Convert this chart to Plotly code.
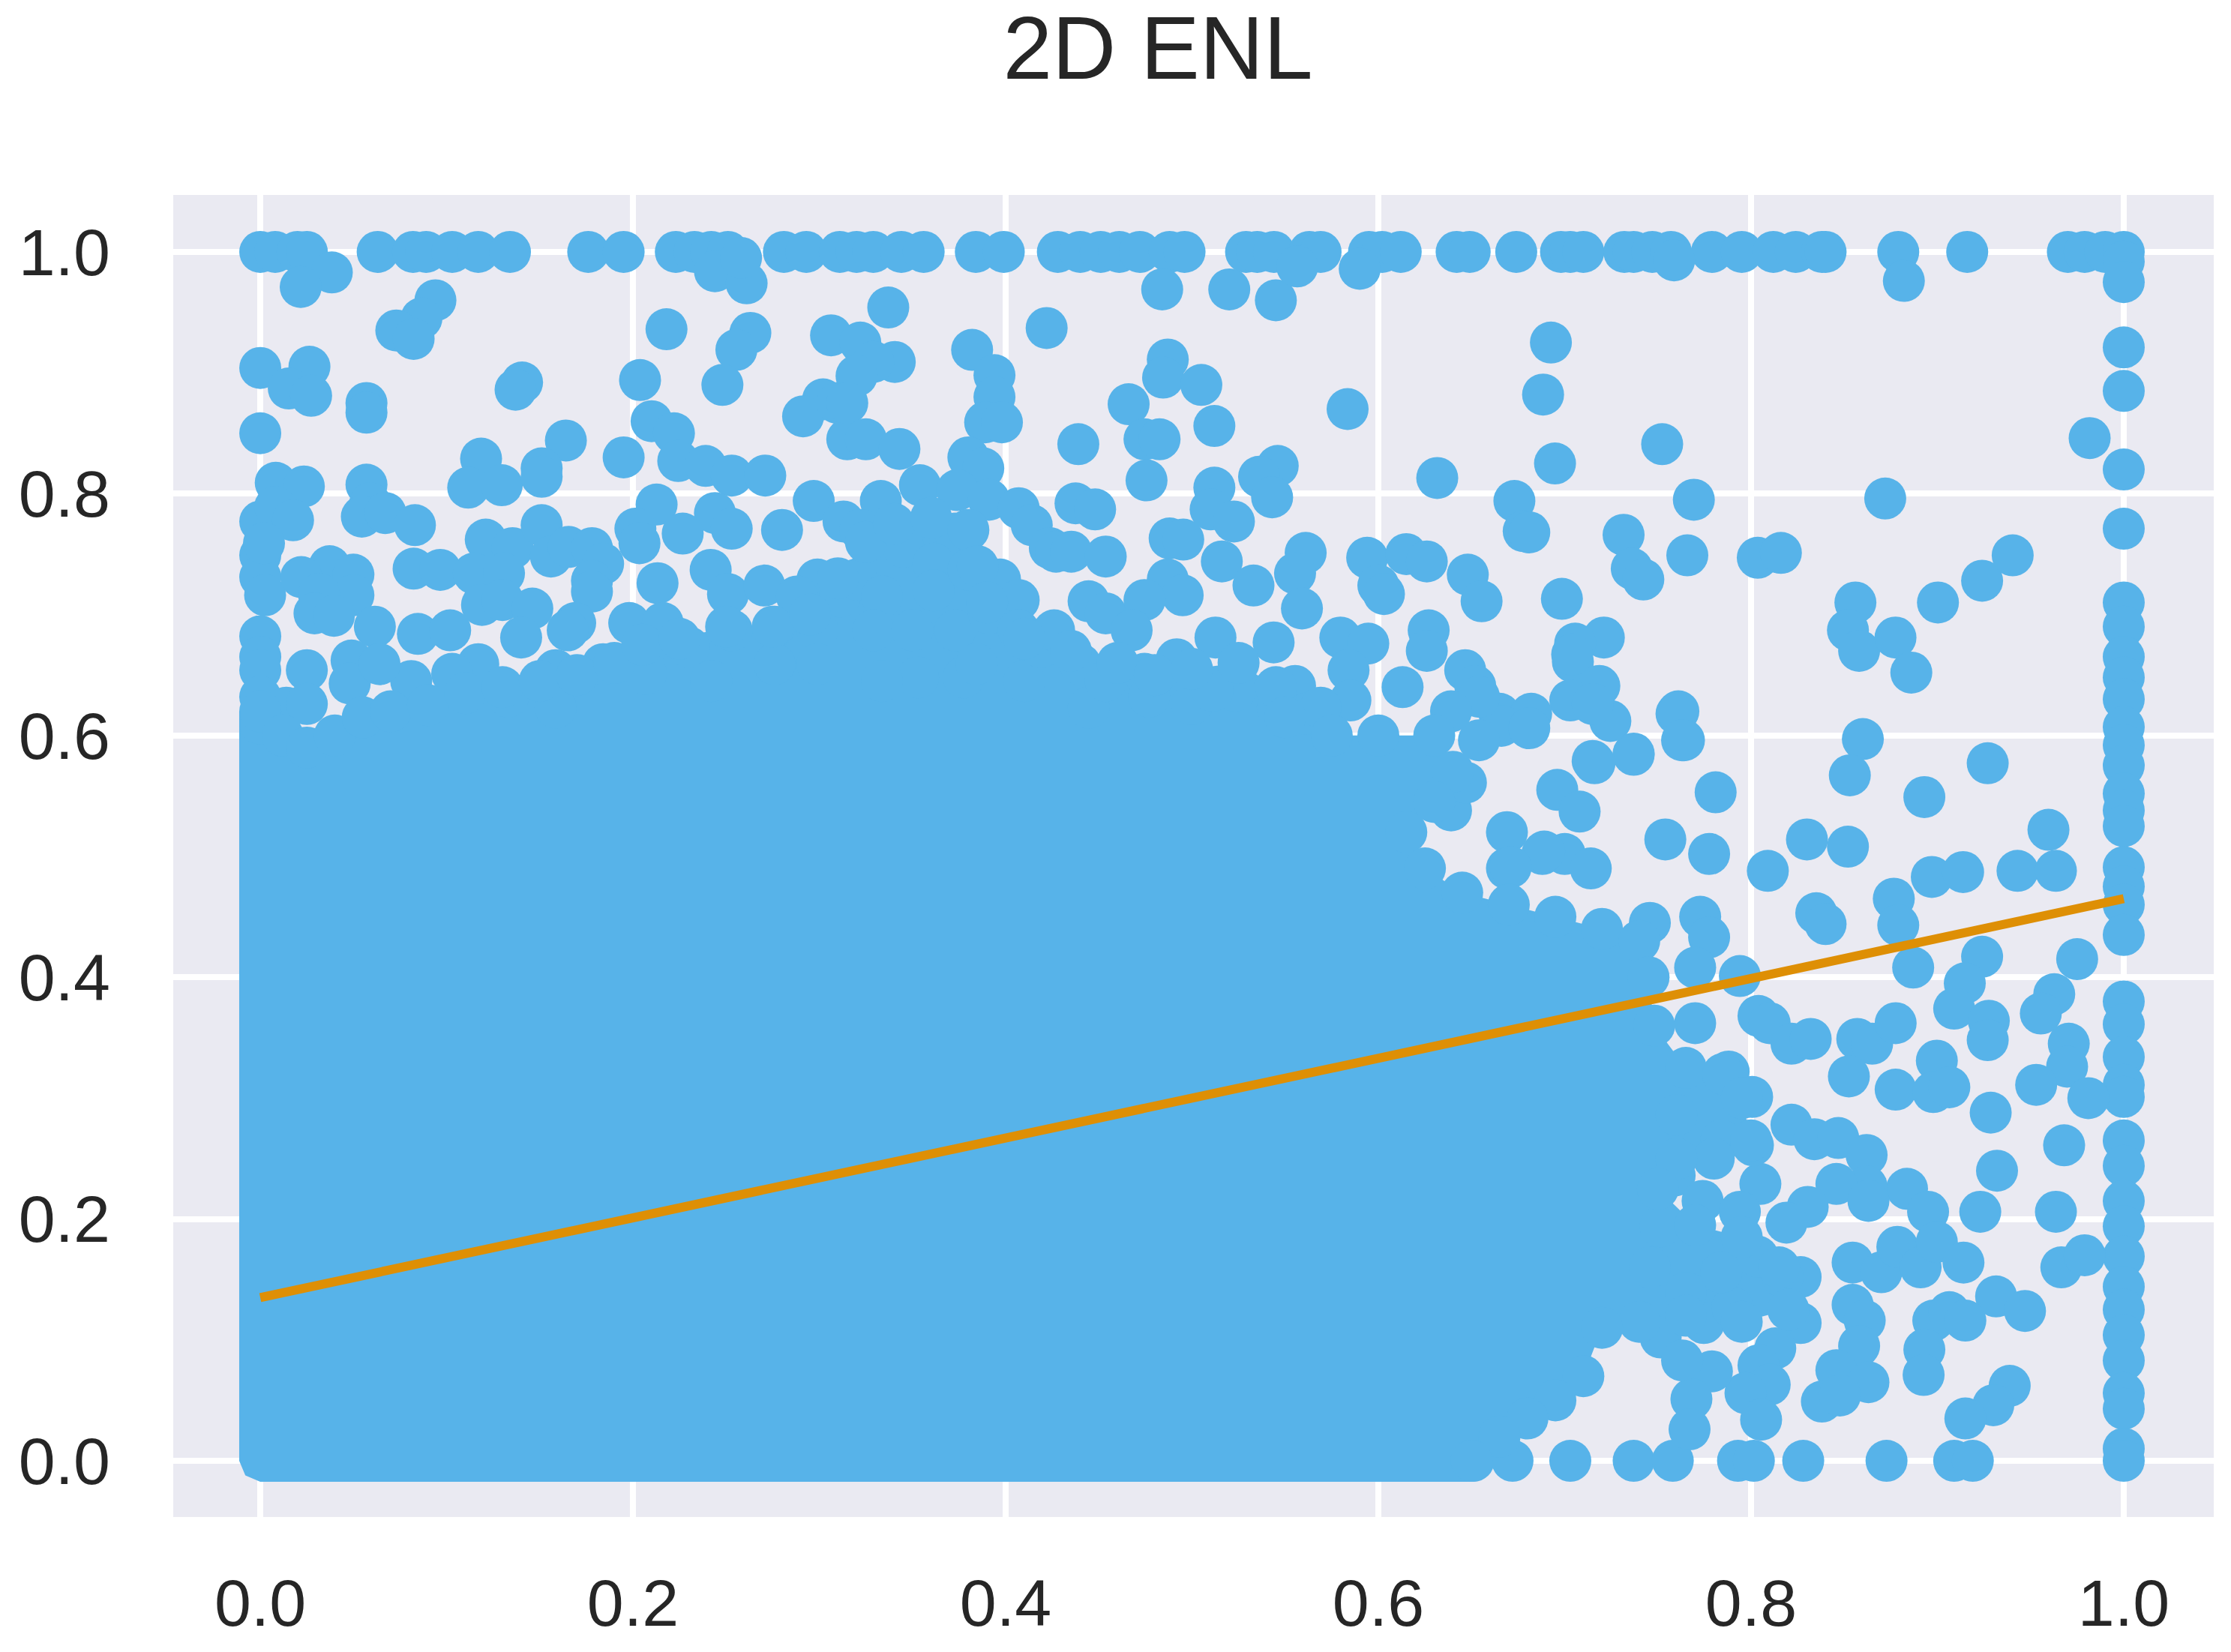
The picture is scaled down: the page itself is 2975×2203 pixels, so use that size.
import plotly.graph_objects as go

# Axis ticks
tick_vals = [0.0, 0.2, 0.4, 0.6, 0.8, 1.0]
tick_text = ['0.0', '0.2', '0.4', '0.6', '0.8', '1.0']

# Fitted line end points
line_x = [0.0, 1.0]
line_y = [0.135, 0.465]

# Points sitting on y = 1
top_row_x = [0.0, 0.008, 0.020, 0.025, 0.063, 0.082, 0.089, 0.103, 0.117, 0.134, 0.176, 0.195,
             0.223, 0.233, 0.242, 0.251, 0.281, 0.293, 0.311, 0.320, 0.329, 0.344, 0.356, 0.384,
             0.399, 0.428, 0.440, 0.451, 0.461, 0.472, 0.488, 0.496, 0.529, 0.535, 0.544, 0.563,
             0.569, 0.595, 0.602, 0.612, 0.642, 0.649, 0.674, 0.698, 0.703, 0.710, 0.732, 0.737,
             0.747, 0.757, 0.779, 0.795, 0.812, 0.824, 0.838, 0.840, 0.879, 0.916, 0.970, 0.979,
             0.990, 1.0]

# Points sitting on x = 1
right_col_y = [0.992, 0.975, 0.921, 0.885, 0.820, 0.771, 0.710, 0.690, 0.665, 0.648, 0.630, 0.607,
               0.592, 0.575, 0.552, 0.538, 0.525, 0.491, 0.475, 0.460, 0.435, 0.380, 0.361, 0.334,
               0.311, 0.301, 0.265, 0.244, 0.215, 0.194, 0.169, 0.144, 0.125, 0.104, 0.083, 0.056,
               0.043, 0.010, 0.0]

# Points sitting on x = 0, above the solid part
left_col_y = [0.904, 0.850, 0.777, 0.749, 0.731, 0.682, 0.665, 0.654, 0.632, 0.610]

# Points sitting on y = 0, right of the solid part
bottom_row_x = [0.651, 0.672, 0.703, 0.737, 0.758, 0.793, 0.8015, 0.828, 0.8727, 0.909, 0.919]

# Separate points, upper left
upper_left = [(.0384, .983), (.0217, .971), (.244, .984), (.261, .974), (.258, .995), (.094, .960),
              (.0865, .945), (.073, .935), (.0823, .928), (.218, .936), (.263, .933), (.2555, .919),
              (.248, .890), (.3063, .931), (.0264, .905), (.0153, .887), (.0273, .881), (.057, .875),
              (.057, .867), (.1405, .892), (.137, .886), (.2038, .894), (.302, .878), (.2913, .864),
              (.3098, .875), (.315, .845), (.164, .844), (.1185, .829), (.1116, .805), (.1296, .807),
              (.151, .821), (.151, .814), (.210, .860), (.222, .850), (.195, .830), (.2243, .827),
              (.239, .823), (.253, .815), (.271, .815), (.2127, .791), (.244, .784), (.253, .771),
              (.2267, .767), (.2013, .771), (.2035, .759), (.297, .794), (.280, .770), (.313, .777),
              (.0083, .809), (.0234, .806), (.008, .789), (.0176, .778), (.002, .759), (.0026, .716),
              (.057, .8075), (.059, .792), (.0545, .781), (.0672, .784), (.083, .774), (.121, .762),
              (.1354, .755), (.151, .774), (.156, .748), (.1655, .756), (.178, .755), (.184, .742),
              (.0823, .738), (.0966, .737), (.1146, .734), (.1308, .734), (.119, .708), (.13, .712),
              (.146, .705), (.178, .728), (.178, .719), (.169, .693), (.0372, .740), (.022, .731),
              (.05, .733), (.05, .716), (.0315, .717), (.0291, .701), (.0395, .699), (.0615, .690),
              (.2132, .726), (.2417, .737), (.251, .717), (.2705, .724), (.0846, .684), (.1019, .687),
              (.14, .681), (.117, .659), (.025, .654), (.014, .623), (.025, .626), (.049, .662),
              (.048, .643), (.081, .645), (.1585, .654), (.133, .632), (.1585, .623), (.198, .693),
              (.216, .693), (.207, .673), (.23, .673), (.253, .687), (.276, .69), (.299, .729),
              (.288, .715), (.311, .715), (.299, .687), (.184, .659), (.207, .651), (.242, .645),
              (.276, .659), (.299, .659), (.165, .687), (.103, .651), (.064, .659)]

# Separate points, upper middle
upper_mid = [(.337, .954), (.484, .969), (.520, .969), (.545, .960), (.5565, .988), (.590, .986),
             (.422, .937), (.322, .925), (.3405, .909), (.329, .909), (.320, .8975), (.315, .875),
             (.382, .919), (.394, .898), (.394, .880), (.389, .859), (.398, .859), (.325, .845),
             (.343, .837), (.380, .830), (.388, .821), (.354, .807), (.333, .794), (.374, .803),
             (.391, .795), (.407, .788), (.414, .774), (.4375, .792), (.448, .787), (.439, .841),
             (.487, .911), (.4845, .896), (.505, .890), (.466, .874), (.4745, .845), (.4826, .845),
             (.512, .856), (.4756, .811), (.5835, .870), (.546, .823), (.536, .814), (.543, .797),
             (.512, .805), (.510, .787), (.5225, .777), (.6316, .813), (.673, .794), (.678, .769),
             (.488, .763), (.4953, .762), (.516, .744), (.561, .751), (.594, .747), (.615, .750),
             (.626, .744), (.648, .733), (.6554, .711), (.6, .724), (.603, .717), (.487, .729),
             (.495, .716), (.5553, .734), (.559, .705), (.533, .724), (.4237, .755), (.427, .752),
             (.4352, .752), (.4537, .748), (.4445, .711), (.4537, .701), (.4745, .712), (.4676, .687),
             (.4918, .663), (.4745, .651), (.5126, .681), (.5438, .677), (.5796, .681), (.5946, .676),
             (.627, .687), (.626, .670), (.584, .654), (.6466, .654), (.652, .641), (.5553, .641),
             (.613, .640), (.665, .618), (.585, .629), (.561, .618), (.397, .729), (.407, .712),
             (.389, .679), (.373, .745), (.329, .745), (.353, .648), (.3775, .648), (.41, .645),
             (.44, .659), (.4445, .623), (.5, .626), (.523, .637), (.3382, .77), (.361, .77),
             (.373, .767), (.322, .77), (.345, .756), (.3613, .742), (.32, .729), (.3336, .715),
             (.3613, .72), (.38, .737), (.329, .687), (.35, .687), (.373, .687), (.391, .701),
             (.407, .687), (.419, .673), (.426, .687), (.3336, .645), (.3844, .659), (.4537, .645),
             (.477, .632), (.511, .637), (.546, .623), (.569, .623)]

# Separate points, upper right
upper_right = [(.6926, .925), (.6884, .882), (.7523, .841), (.6948, .825), (.7693, .795), (.872, .796),
               (.882, .976), (.7587, .993), (.9817, .846), (.681, .768), (.7316, .766), (.7658, .749),
               (.736, .738), (.7422, .729), (.8036, .747), (.816, .751), (.6985, .713), (.721, .681),
               (.7056, .676), (.7044, .661), (.7186, .641), (.703, .629), (.682, .618), (.7245, .612),
               (.76, .618), (.856, .710), (.852, .687), (.858, .670), (.8775, .681), (.886, .652),
               (.9003, .710), (.924, .728), (.9404, .749)]

# Separate points, lower right
lower_right = [(.764, .596), (.781, .553), (.754, .514), (.7775, .502), (.809, .488), (.830, .514),
               (.852, .508), (.860, .597), (.853, .567), (.893, .549), (.927, .577), (.9596, .522),
               (.897, .483), (.9138, .487), (.943, .488), (.9636, .488), (.8766, .465), (.835, .453),
               (.840, .444), (.879, .443), (.7727, .450), (.7775, .433), (.77, .408), (.794, .401),
               (.7457, .445), (.887, .408), (.924, .417), (.9147, .395), (.909, .374), (.9276, .364),
               (.927, .348), (.975, .415), (.9627, .386), (.9555, .370), (.9705, .345), (.9696, .326),
               (.953, .311), (.981, .300), (.804, .368), (.81, .362), (.8217, .345), (.832, .349),
               (.857, .349), (.865, .345), (.8776, .362), (.8525, .318), (.8776, .307), (.8997, .331),
               (.8978, .305), (.9064, .309), (.9286, .288), (.968, .261), (.932, .240), (.8217, .278),
               (.834, .266), (.8468, .267), (.862, .253), (.8837, .225), (.895, .206), (.862, .227),
               (.8458, .229), (.863, .215), (.923, .206), (.9636, .206), (.8304, .210), (.819, .197),
               (.805, .229), (.8545, .164), (.8699, .156), (.8785, .177), (.891, .160), (.8997, .181),
               (.914, .164), (.9665, .160), (.979, .170), (.9315, .136), (.947, .124), (.8545, .129),
               (.861, .116), (.858, .095), (.8978, .116), (.9064, .123), (.915, .116), (.893, .092),
               (.8926, .071), (.9388, .062), (.930, .046), (.915, .035), (.8458, .075), (.863, .065),
               (.838, .049), (.8477, .054), (.8266, .152), (.8266, .114), (.813, .093), (.804, .079),
               (.810, .063), (.797, .056), (.8054, .034), (.779, .074), (.768, .051), (.767, .026),
               (.7515, .102), (.763, .083), (.7746, .114), (.790, .127), (.76, .286), (.788, .322),
               (.8006, .301), (.801, .261), (.784, .265), (.759, .236), (.770, .362), (.7457, .16),
               (.7515, .194), (.774, .215), (.794, .206), (.784, .156), (.8035, .169), (.765, .139),
               (.817, .152)]

# Separate points just outside the solid part
core_near = [(.666, .608), (.681, .606), (.696, .555), (.715, .579), (.737, .585), (.715, .626),
             (.704, .667), (.761, .62), (.763, .596), (.669, .52), (.688, .502), (.669, .49),
             (.7, .502), (.714, .49), (.639, .538), (.647, .561), (.654, .632), (.654, .596),
             (.639, .62), (.708, .537), (.689, .504), (.737, .584), (.716, .577), (.671, .491)]

# Top edge of the solid overplotted part, where single points can't be read
edge_x = [0.0, .012, .025, .04, .055, .07, .09, .11, .13, .15, .17, .19, .205, .225, .25, .275,
          .295, .31, .325, .34, .36, .38, .385, .39, .41, .435, .46, .48, .50, .525, .545, .55,
          .575, .60, .63, .64, .63, .615, .625, .645, .67, .695, .72, .74, .745, .748, .765, .785,
          .795, .80, .78, .76, .75, .77, .795, .815, .82, .795, .765, .74, .72, .71, .695, .68,
          .665, .65]
edge_y = [.62, .60, .59, .60, .615, .62, .625, .635, .64, .645, .65, .66, .675, .68, .69, .69,
          .70, .73, .76, .775, .78, .77, .74, .71, .68, .67, .66, .65, .655, .66, .64, .615,
          .60, .60, .60, .57, .545, .52, .49, .47, .46, .45, .44, .43, .40, .36, .325, .32,
          .30, .265, .25, .25, .225, .195, .185, .16, .125, .115, .12, .115, .11, .07, .05, .035,
          .02, 0.0]

# Outer corners of the solid part along the axes
corner_x = [0.65, 0.0, -0.008, -0.0113, -0.0113]
corner_y = [-0.0174, -0.0174, -0.012, 0.0, 0.62]

blue = '#57B3E9'
orange = '#DE8F05'

separate = upper_left + upper_mid + upper_right + lower_right + core_near
points_x = top_row_x + [1.0] * len(right_col_y) + [0.0] * len(left_col_y) + bottom_row_x + [p[0] for p in separate] + edge_x
points_y = [1.0] * len(top_row_x) + right_col_y + left_col_y + [0.0] * len(bottom_row_x) + [p[1] for p in separate] + edge_y

data = [
    go.Scatter(x=edge_x + corner_x, y=edge_y + corner_y, mode='lines', fill='toself', fillcolor=blue,
               line=dict(color=blue, width=0), hoverinfo='skip'),
    go.Scatter(x=points_x, y=points_y, mode='markers',
               marker=dict(color=blue, size=56, line=dict(width=0))),
    go.Scatter(x=line_x, y=line_y, mode='lines', line=dict(color=orange, width=12)),
]

axis_style = dict(tickvals=tick_vals, ticktext=tick_text, showgrid=True, gridcolor='white', gridwidth=8,
                  zeroline=False, showline=False, ticks='', automargin=False,
                  tickfont=dict(size=88, color='#262626'))

layout = go.Layout(
    width=2975, height=2203, showlegend=False,
    font=dict(family='Liberation Sans', color='#262626'),
    paper_bgcolor='white', plot_bgcolor='#EAEAF2',
    margin=dict(l=231, r=23, t=260, b=180, pad=0),
    title=dict(text='2D ENL', font=dict(size=118), x=0.519, xanchor='center', y=0.971, yanchor='middle'),
    xaxis=dict(range=[-0.0467, 1.0483], ticklabelstandoff=56, **axis_style),
    yaxis=dict(range=[-0.0465, 1.0471], ticklabelstandoff=83, **axis_style),
)

fig = go.Figure(data=data, layout=layout)
fig.write_html("out.html", config=dict(displayModeBar=False), post_script="document.body.style.margin='0';")
